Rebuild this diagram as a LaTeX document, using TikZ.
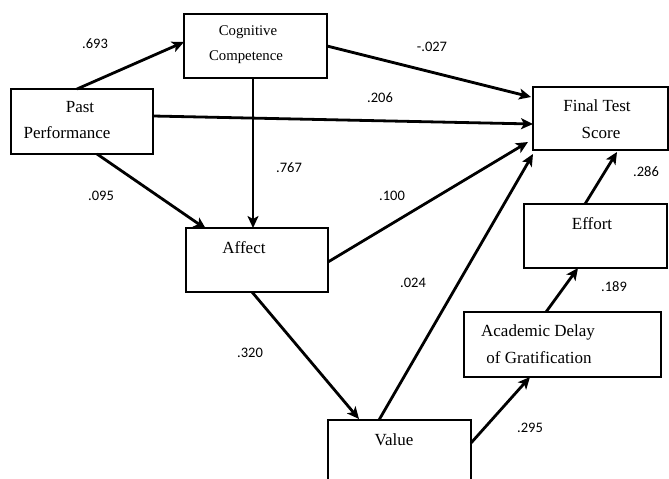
\documentclass[tikz,border=0pt]{standalone}
\usepackage{fontspec}
\setmainfont{Liberation Serif}
\newfontfamily\numfont{Carlito}
\usetikzlibrary{arrows.meta}
\tikzset{
  box/.style={draw=black, line width=1.5pt},
  lbl/.style={font=\fontsize{17}{20}\selectfont, inner sep=0pt, anchor=center},
  slbl/.style={font=\fontsize{14.8}{17}\selectfont, inner sep=0pt, anchor=center},
  coef/.style={font=\numfont\fontsize{14.5}{16}\selectfont, inner sep=0pt, anchor=center},
  path/.style={line width=2.8pt, -{Stealth[length=12pt,width=11pt,inset=3pt]}},
}
\begin{document}
\begin{tikzpicture}[x=1pt,y=-1pt]
\useasboundingbox (0,0) rectangle (669,479);
% boxes
\draw[box] (11,89) rectangle (153,154);
\draw[box] (184,14) rectangle (327,78);
\draw[box] (533,87) rectangle (668,150);
\draw[box] (186,228) rectangle (328,292);
\draw[box] (524,204) rectangle (667,268);
\draw[box] (464,312) rectangle (661,377);
\draw[box] (471,479) -- (471,420) -- (328,420) -- (328,479);
% texts
\node[lbl] (pp1) at (80,107) {Past};
\node[lbl] (pp2) at (67,133) {Performance};
\node[slbl] (cc1) at (248,32) {Cognitive};
\node[slbl] (cc2) at (246,57) {Competence};
\node[lbl] (ft1) at (597,106) {Final Test};
\node[lbl] (ft2) at (601,133) {Score};
\node[lbl] (af) at (244,248) {Affect};
\node[lbl] (ef) at (592,224) {Effort};
\node[lbl] (ad1) at (538,332) {Academic Delay};
\node[lbl] (ad2) at (539,358) {of Gratification};
\node[lbl] (va) at (394,440) {Value};
% anchor coordinates
\coordinate (ppTop) at (77,89);
\coordinate (ccLeft) at (184,42);
\coordinate (ppRight) at (153,116);
\coordinate (ftLeft) at (533,124);
\coordinate (ccRight) at (327,46);
\coordinate (ftLeftA) at (531,97);
\coordinate (ccBot) at (253,78);
\coordinate (afTop) at (253,228);
\coordinate (ppBot) at (97,154);
\coordinate (afTopL) at (206,229);
\coordinate (afRight) at (328,262);
\coordinate (ftLeftB) at (528,142);
\coordinate (vaTop) at (379,420);
\coordinate (ftBotL) at (533,154);
\coordinate (afBot) at (252,292);
\coordinate (vaTopL) at (359,419);
\coordinate (vaRight) at (471,443);
\coordinate (adBot) at (530,377);
\coordinate (adTop) at (546,312);
\coordinate (efBot) at (578,268);
\coordinate (efTop) at (585,204);
\coordinate (ftBot) at (617,152);
% arrows
\draw[path] (ppTop) -- (ccLeft);
\draw[path] (ppRight) -- (ftLeft);
\draw[path] (ccRight) -- (ftLeftA);
\draw[path] (ccBot) -- (afTop);
\draw[path] (ppBot) -- (afTopL);
\draw[path] (afRight) -- (ftLeftB);
\draw[path] (vaTop) -- (ftBotL);
\draw[path] (afBot) -- (vaTopL);
\draw[path] (vaRight) -- (adBot);
\draw[path] (adTop) -- (efBot);
\draw[path] (efTop) -- (ftBot);
% coefficients
\node[coef] (c1) at (95,44) {.693};
\node[coef] (c2) at (432,47) {-.027};
\node[coef] (c3) at (380,98) {.206};
\node[coef] (c4) at (289,168) {.767};
\node[coef] (c5) at (101,196) {.095};
\node[coef] (c6) at (392,196) {.100};
\node[coef] (c7) at (413,283) {.024};
\node[coef] (c8) at (250,353) {.320};
\node[coef] (c9) at (646,172) {.286};
\node[coef] (c10) at (614,287) {.189};
\node[coef] (c11) at (530,428) {.295};
\end{tikzpicture}
\end{document}
